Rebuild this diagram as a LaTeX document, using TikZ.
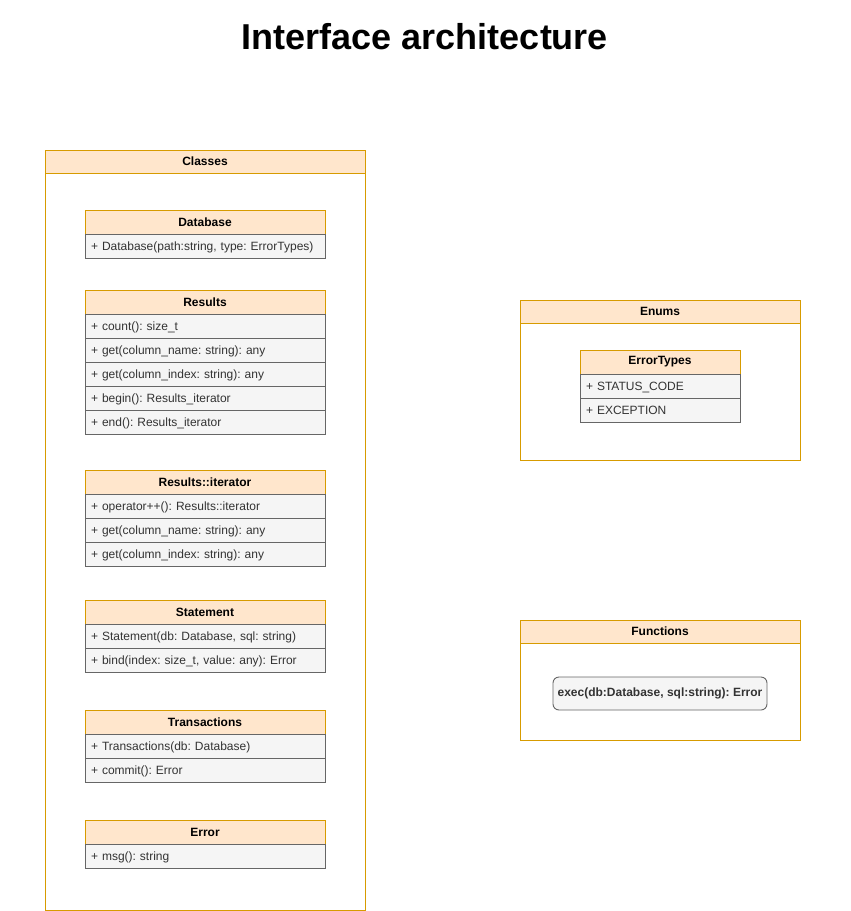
\documentclass[tikz,border=0pt]{standalone}
\usepackage{fontspec}
\setmainfont{Liberation Sans}
\usetikzlibrary{positioning}
\definecolor{headfill}{HTML}{FFE6CC}
\definecolor{headline}{HTML}{D79B00}
\definecolor{rowfill}{HTML}{F5F5F5}
\definecolor{rowline}{HTML}{666666}
\definecolor{rowtext}{HTML}{333333}
\frenchspacing
\begin{document}
\begin{tikzpicture}[
    x=1pt, y=-1pt,
    every node/.style={font=\fontsize{12}{14}\selectfont, outer sep=0pt},
    frame/.style={draw=headline, fill=white, line width=0.9pt, inner sep=0},
    group/.style={draw=headline, fill=headfill, line width=0.9pt, inner sep=0,
      minimum height=23pt, font=\fontsize{12}{14}\selectfont\bfseries},
    head/.style={draw=headline, fill=headfill, line width=0.9pt, inner sep=0,
      minimum width=240pt, minimum height=24pt, font=\fontsize{12}{14}\selectfont\bfseries},
    row/.style={draw=rowline, fill=rowfill, text=rowtext, line width=0.9pt,
      inner xsep=6pt, inner ysep=0, minimum height=24pt, text width=#1, align=left,
      text height=10pt, text depth=2pt},
    row/.default=228pt,
    func/.style={draw=rowline, fill=rowfill, text=rowtext, line width=0.9pt, rounded corners=6pt,
      minimum width=214pt, minimum height=33pt, font=\fontsize{12}{14}\selectfont\bfseries}
  ]
  \useasboundingbox (0,0) rectangle (851,911);
  \node[font=\fontsize{36}{40}\selectfont\bfseries] (title) at (425,37) {Interface architecture};

  % Classes
  \node[frame, minimum width=320pt, minimum height=760pt] (classes) at (205,530) {};
  \node[group, minimum width=320pt, below=0pt of classes.north] (classeshead) {Classes};

  \node[head] (db) at (205,222) {Database};
  \node[row, below=0pt of db] (db1) {+ Database(path:string, type: ErrorTypes)};

  \node[head] (res) at (205,302) {Results};
  \node[row, below=0pt of res] (res1) {+ count(): size\_t};
  \node[row, below=0pt of res1] (res2) {+ get(column\_name: string): any};
  \node[row, below=0pt of res2] (res3) {+ get(column\_index: string): any};
  \node[row, below=0pt of res3] (res4) {+ begin(): Results\_iterator};
  \node[row, below=0pt of res4] (res5) {+ end(): Results\_iterator};

  \node[head] (it) at (205,482) {Results::iterator};
  \node[row, below=0pt of it] (it1) {+ operator++(): Results::iterator};
  \node[row, below=0pt of it1] (it2) {+ get(column\_name: string): any};
  \node[row, below=0pt of it2] (it3) {+ get(column\_index: string): any};

  \node[head] (stmt) at (205,612) {Statement};
  \node[row, below=0pt of stmt] (stmt1) {+ Statement(db: Database, sql: string)};
  \node[row, below=0pt of stmt1] (stmt2) {+ bind(index: size\_t, value: any): Error};

  \node[head] (tx) at (205,722) {Transactions};
  \node[row, below=0pt of tx] (tx1) {+ Transactions(db: Database)};
  \node[row, below=0pt of tx1] (tx2) {+ commit(): Error};

  \node[head] (err) at (205,832) {Error};
  \node[row, below=0pt of err] (err1) {+ msg(): string};

  % Enums
  \node[frame, minimum width=280pt, minimum height=160pt] (enums) at (660,380) {};
  \node[group, minimum width=280pt, below=0pt of enums.north] (enumshead) {Enums};
  \node[head, minimum width=160pt] (et) at (660,362) {ErrorTypes};
  \node[row=148pt, below=0pt of et] (et1) {+ STATUS\_CODE};
  \node[row=148pt, below=0pt of et1] (et2) {+ EXCEPTION};

  % Functions
  \node[frame, minimum width=280pt, minimum height=120pt] (funcs) at (660,680) {};
  \node[group, minimum width=280pt, below=0pt of funcs.north] (funcshead) {Functions};
  \node[func] (exec) at (660,693.5) {exec(db:Database, sql:string): Error};
\end{tikzpicture}
\end{document}
